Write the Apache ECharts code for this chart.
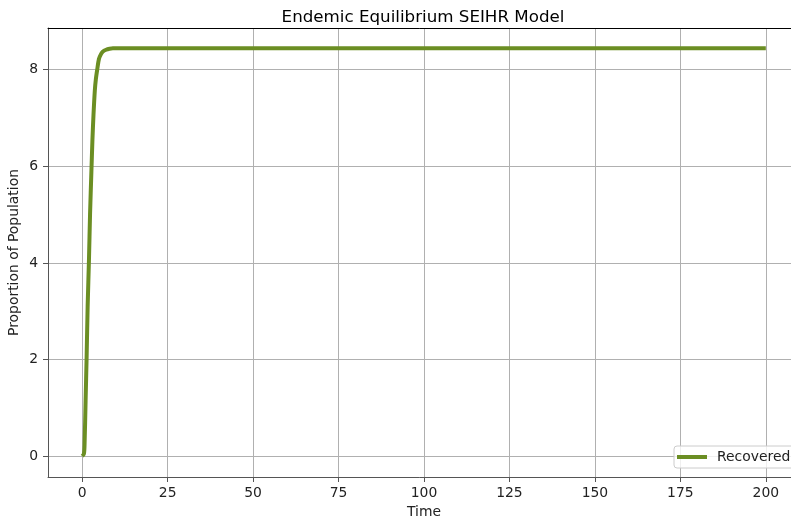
<!DOCTYPE html>
<html>
<head>
<meta charset="utf-8">
<script src="https://cdn.jsdelivr.net/npm/echarts@6/dist/echarts.min.js"></script>
<style>
html,body{margin:0;padding:0;background:#fff;}
#chart{width:791px;height:521px;}
</style>
</head>
<body>
<div id="chart"></div>
<script>
// Data
const timeValues = [0, 0.5, 0.7, 1.0, 1.3, 1.6, 2.0, 2.3, 2.7, 3.0, 3.3, 3.7, 4.0, 4.4, 4.9, 5.5, 6.0, 7.0, 8.0, 9.0, 10, 200];
const recoveredValues = [0, 0.05, 0.25, 1.15, 2.05, 3.1, 4.1, 5.0, 5.9, 6.55, 7.05, 7.57, 7.8, 8.0, 8.22, 8.32, 8.37, 8.41, 8.43, 8.44, 8.44, 8.44];
const xTicks = [0, 25, 50, 75, 100, 125, 150, 175, 200];
const yTicks = [0, 2, 4, 6, 8];
const seriesName = 'Recovered';
const titleText = 'Endemic Equilibrium SEIHR Model';
const xLabel = 'Time';
const yLabel = 'Proportion of Population';

const FONT = 'DejaVu Sans';
const spineColor = '#555';
const gridColor = '#b0b0b0';

const chart = echarts.init(document.getElementById('chart'), null, {renderer: 'canvas'});
const option = {
  animation: false,
  backgroundColor: '#fff',
  textStyle: {fontFamily: FONT},
  title: {
    text: titleText,
    left: 418, top: 4,
    textAlign: 'center',
    textStyle: {fontFamily: FONT, fontSize: 16.7, fontWeight: 'normal', color: '#000'}
  },
  grid: {left: 48, top: 28, width: 752, height: 449, containLabel: false, outerBoundsMode: 'none'},
  legend: {
    data: [{name: seriesName, icon: 'rect'}],
    left: 674, top: 446,
    itemWidth: 30, itemHeight: 4,
    padding: [4, 8, 4, 3],
    borderColor: '#cccccc', borderWidth: 1, borderRadius: 3,
    backgroundColor: 'rgba(255,255,255,0.8)',
    textStyle: {fontFamily: FONT, fontSize: 13.9, color: '#222', padding: [0, 0, 0, 5]}
  },
  xAxis: [{
    type: 'value', min: -10, max: 210,
    name: xLabel, nameLocation: 'middle', nameGap: 28,
    nameTextStyle: {fontFamily: FONT, fontSize: 13.9, color: '#222'},
    axisLine: {show: true, onZero: false, lineStyle: {color: spineColor, width: 1}},
    axisTick: {show: true, customValues: xTicks, length: 5, lineStyle: {color: spineColor, width: 1}},
    axisLabel: {customValues: xTicks, margin: 9, fontFamily: FONT, fontSize: 13.9, color: '#222'},
    splitLine: {show: true, lineStyle: {color: gridColor, width: 1}}
  }, {
    type: 'value', min: -10, max: 210, position: 'top',
    axisLine: {show: true, onZero: false, lineStyle: {color: '#000', width: 1}},
    axisTick: {show: false}, axisLabel: {show: false}, splitLine: {show: false}
  }],
  yAxis: {
    type: 'value', min: -0.43, max: 8.86,
    name: yLabel, nameLocation: 'middle', nameGap: 27, nameRotate: 90,
    nameMoveOverlap: false,
    nameTextStyle: {fontFamily: FONT, fontSize: 13.9, color: '#222'},
    axisLine: {show: true, onZero: false, lineStyle: {color: spineColor, width: 1}},
    axisTick: {show: true, customValues: yTicks, length: 5, lineStyle: {color: spineColor, width: 1}},
    axisLabel: {customValues: yTicks, margin: 10, fontFamily: FONT, fontSize: 13.9, color: '#222'},
    splitLine: {show: true, lineStyle: {color: gridColor, width: 1}}
  },
  series: [{
    name: seriesName,
    type: 'line',
    xAxisIndex: 0,
    data: timeValues.map((t, i) => [t, recoveredValues[i]]),
    showSymbol: false,
    smooth: 0.3,
    lineStyle: {color: '#6b8e23', width: 4},
    itemStyle: {color: '#6b8e23'},
    z: 3
  }]
};
chart.setOption(option);
</script>
</body>
</html>
